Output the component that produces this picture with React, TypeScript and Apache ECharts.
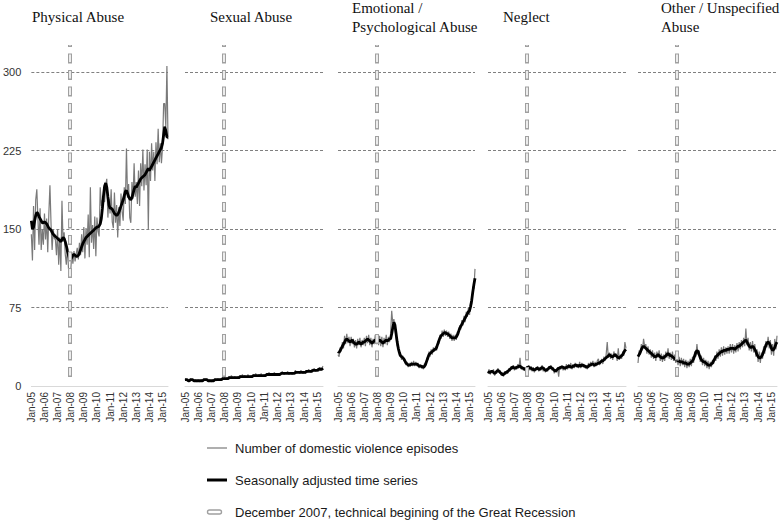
import React, { useEffect, useRef } from "react";
import * as echarts from "echarts";

const MONTH_NAMES = ["Jan", "Feb", "Mar", "Apr", "May", "Jun", "Jul", "Aug", "Sep", "Oct", "Nov", "Dec"];
const YEARS = ["05", "06", "07", "08", "09", "10", "11", "12", "13", "14", "15"];
const LAST_YEAR_MONTHS = 6;
const months: string[] = [];
YEARS.forEach((y, i) => {
  const n = i === YEARS.length - 1 ? LAST_YEAR_MONTHS : 12;
  for (let m = 0; m < n; m++) months.push(`${MONTH_NAMES[m]}-${y}`);
});
const RECESSION = "Dec-07";
const Y_TICKS_MAX = 300;

const physicalRaw = [
  145, 120, 172, 130, 178, 188, 160, 135, 170, 130, 150, 135,
  165, 140, 160, 128, 165, 192, 155, 130, 150, 141, 140, 125,
  150, 116, 142, 110, 177, 138, 147, 126, 116, 133, 112, 112,
  109, 128, 117, 129, 119, 126, 132, 121, 137, 125, 145, 128,
  152, 122, 151, 135, 164, 123, 190, 137, 154, 131, 162, 124,
  161, 148, 143, 190, 172, 178, 177, 176, 192, 198, 161, 179,
  165, 188, 157, 151, 185, 156, 173, 142, 171, 153, 184, 167,
  158, 190, 174, 227, 180, 193, 161, 156, 195, 179, 213, 181,
  195, 174, 206, 172, 213, 191, 226, 187, 212, 192, 226, 150,
  224, 196, 232, 206, 224, 196, 233, 212, 246, 214, 232, 213,
  228, 270, 270, 248, 306, 236,
];
const physicalSA = [
  158, 150, 152, 158, 163, 166, 165, 162, 160, 158, 156, 156,
  157, 156, 155, 153, 151, 150, 149, 147, 145, 144, 143, 142,
  141, 140, 139, 138, 140, 142, 141, 138, 134, 129, 125, 122,
  121, 123, 125, 126, 125, 124, 124, 125, 127, 130, 133, 136,
  138, 140, 142, 143, 144, 145, 146, 147, 148, 149, 150, 151,
  152, 152, 153, 155, 160, 170, 182, 191, 194, 190, 181, 173,
  170, 170, 169, 167, 165, 164, 163, 164, 166, 169, 172, 175,
  178, 182, 186, 187, 184, 181, 179, 178, 180, 184, 188, 191,
  190, 192, 194, 196, 198, 199, 200, 201, 202, 204, 206, 208,
  206, 208, 210, 212, 214, 216, 218, 220, 222, 224, 226, 228,
  232, 240, 248, 244, 238, 238,
];

const sexualRaw = [
  7, 5, 6, 4, 6, 7, 5, 6, 4, 6, 5, 4,
  6, 4, 5, 6, 4, 7, 5, 7, 5, 4, 6, 5,
  4, 6, 5, 7, 5, 6, 7, 5, 7, 6, 8, 6,
  8, 6, 8, 7, 9, 7, 10, 8, 7, 9, 8, 7,
  9, 7, 10, 8, 11, 8, 10, 9, 8, 11, 9, 8,
  10, 8, 11, 9, 12, 10, 9, 11, 10, 12, 9, 10,
  11, 9, 12, 10, 13, 11, 10, 12, 11, 13, 10, 11,
  12, 10, 12, 11, 14, 12, 11, 13, 12, 14, 11, 12,
  13, 11, 13, 12, 15, 12, 14, 13, 12, 15, 13, 12,
  14, 12, 15, 13, 16, 14, 13, 16, 15, 17, 14, 15,
  16, 14, 18, 15, 17, 19,
];
const sexualSA = [
  6, 6, 6, 5, 5, 6, 6, 6, 5, 5, 5, 5,
  5, 5, 5, 5, 5, 6, 6, 6, 6, 5, 5, 5,
  5, 5, 5, 6, 6, 6, 6, 6, 6, 6, 7, 7,
  7, 7, 7, 7, 8, 8, 8, 8, 8, 8, 8, 8,
  8, 8, 9, 9, 9, 9, 9, 9, 9, 9, 9, 9,
  9, 9, 10, 10, 10, 10, 10, 10, 10, 10, 10, 10,
  10, 10, 11, 11, 11, 11, 11, 11, 11, 11, 11, 11,
  11, 11, 11, 12, 12, 12, 12, 12, 12, 12, 12, 12,
  12, 12, 12, 12, 13, 13, 13, 13, 13, 13, 13, 13,
  13, 13, 14, 14, 14, 14, 14, 14, 15, 15, 15, 15,
  15, 16, 16, 16, 16, 17,
];

const emotionalRaw = [
  30, 28, 37, 33, 42, 36, 48, 40, 50, 41, 47, 38,
  47, 40, 45, 37, 44, 36, 45, 39, 46, 37, 44, 39,
  46, 38, 48, 41, 49, 39, 46, 37, 45, 40, 49, 40,
  46, 39, 48, 38, 47, 37, 46, 40, 49, 39, 47, 42,
  50, 72, 60, 64, 54, 47, 38, 39, 29, 31, 25, 29,
  24, 26, 20, 23, 18, 22, 19, 23, 19, 24, 19, 23,
  19, 22, 17, 21, 17, 20, 16, 22, 19, 27, 25, 33,
  28, 35, 30, 37, 33, 38, 34, 43, 40, 49, 45, 53,
  47, 54, 48, 53, 47, 52, 45, 50, 43, 49, 43, 49,
  44, 52, 49, 58, 54, 63, 58, 67, 61, 71, 66, 75,
  68, 80, 78, 95, 93, 112,
];
const emotionalSA = [
  33, 32, 34, 36, 38, 40, 42, 44, 45, 44, 43, 42,
  43, 44, 42, 41, 40, 40, 41, 42, 41, 40, 41, 42,
  42, 43, 44, 45, 44, 43, 42, 41, 42, 43, 44, 43,
  42, 43, 44, 43, 42, 41, 42, 43, 44, 43, 44, 45,
  45, 50, 56, 61, 58, 50, 42, 36, 32, 29, 28, 27,
  26, 24, 22, 21, 20, 20, 20, 21, 21, 21, 21, 21,
  21, 20, 19, 19, 19, 18, 18, 19, 21, 24, 27, 30,
  31, 32, 33, 34, 35, 35, 37, 40, 43, 46, 48, 49,
  50, 51, 51, 50, 50, 49, 48, 47, 46, 46, 46, 46,
  47, 49, 52, 55, 57, 59, 61, 63, 65, 67, 69, 71,
  72, 76, 82, 90, 97, 103,
];

const neglectRaw = [
  12, 16, 11, 15, 13, 16, 10, 14, 12, 17, 13, 15,
  10, 13, 9, 14, 11, 15, 12, 17, 14, 19, 16, 20,
  15, 19, 16, 21, 17, 27, 16, 19, 15, 18, 14, 19,
  16, 20, 15, 19, 14, 18, 13, 17, 15, 19, 14, 18,
  15, 20, 14, 18, 13, 17, 14, 19, 16, 20, 15, 18,
  12, 16, 13, 18, 9, 19, 16, 20, 15, 19, 15, 21,
  16, 21, 17, 22, 16, 21, 17, 22, 18, 21, 17, 23,
  17, 22, 18, 21, 17, 20, 16, 22, 18, 23, 19, 24,
  18, 23, 19, 24, 26, 20, 22, 26, 21, 28, 24, 30,
  42, 27, 32, 26, 31, 25, 33, 28, 31, 24, 36, 25,
  30, 26, 33, 29, 42, 36,
];
const neglectSA = [
  14, 13, 13, 14, 14, 13, 12, 13, 14, 15, 14, 13,
  12, 11, 11, 12, 13, 13, 14, 15, 16, 17, 18, 18,
  17, 17, 18, 18, 19, 19, 18, 17, 17, 16, 16, 17,
  18, 18, 17, 17, 16, 16, 15, 16, 17, 17, 16, 16,
  17, 18, 17, 16, 15, 15, 16, 17, 18, 18, 17, 16,
  15, 14, 15, 16, 17, 17, 18, 18, 18, 17, 17, 18,
  18, 19, 19, 18, 18, 19, 19, 20, 20, 19, 19, 20,
  19, 20, 20, 19, 19, 18, 18, 19, 20, 20, 21, 21,
  20, 20, 21, 21, 22, 22, 23, 24, 24, 25, 26, 27,
  28, 29, 30, 29, 28, 28, 29, 30, 29, 28, 27, 27,
  28, 29, 30, 32, 34, 35,
];

const otherRaw = [
  22, 34, 30, 40, 34, 45, 38, 40, 31, 38, 30, 35,
  27, 34, 26, 32, 24, 33, 27, 34, 24, 31, 23, 30,
  24, 33, 27, 36, 26, 32, 25, 33, 24, 30, 22, 28,
  20, 28, 19, 27, 20, 26, 18, 25, 17, 24, 18, 26,
  19, 28, 22, 33, 28, 40, 30, 34, 23, 29, 20, 27,
  19, 25, 17, 24, 16, 23, 18, 25, 21, 29, 24, 33,
  26, 35, 28, 37, 29, 38, 30, 37, 31, 38, 31, 40,
  32, 40, 31, 39, 32, 41, 33, 42, 35, 44, 37, 46,
  38, 55, 39, 46, 34, 42, 33, 43, 32, 40, 28, 35,
  23, 33, 22, 32, 26, 38, 31, 43, 37, 47, 36, 44,
  30, 40, 29, 45, 35, 48,
];
const otherSA = [
  28, 30, 32, 35, 37, 38, 37, 36, 35, 34, 33, 32,
  31, 30, 29, 28, 28, 29, 30, 29, 28, 27, 27, 27,
  28, 29, 30, 31, 30, 29, 29, 28, 27, 26, 25, 25,
  24, 24, 23, 23, 23, 22, 22, 22, 21, 21, 21, 22,
  23, 24, 26, 29, 32, 34, 33, 30, 27, 25, 24, 23,
  23, 22, 21, 20, 20, 20, 21, 22, 24, 26, 28, 29,
  30, 31, 32, 33, 33, 34, 34, 34, 35, 35, 35, 36,
  36, 36, 36, 35, 36, 37, 38, 38, 39, 40, 41, 42,
  43, 44, 42, 40, 38, 37, 37, 38, 37, 35, 33, 30,
  28, 27, 27, 28, 30, 33, 36, 39, 41, 42, 41, 39,
  36, 34, 35, 37, 40, 42,
];

const panelTitles = [
  "Physical Abuse",
  "Sexual Abuse",
  "Emotional /\nPsychological Abuse",
  "Neglect",
  "Other / Unspecified\nAbuse",
];
const rawSeries = [physicalRaw, sexualRaw, emotionalRaw, neglectRaw, otherRaw];
const saSeries = [physicalSA, sexualSA, emotionalSA, neglectSA, otherSA];
const legendLabels = [
  "Number of domestic violence episodes",
  "Seasonally adjusted time series",
  "December 2007, technical begining of the Great Recession",
];

const GRID_LEFTS = [31, 185, 338, 488, 638];
const GRID_WIDTHS = [137, 138, 137, 138, 139];
const TITLE_LEFTS = [32, 210, 352, 503, 661];

export default function App() {
  const ref = useRef<HTMLDivElement>(null);
  useEffect(() => {
    document.body.style.margin = "0";
    if (!ref.current) return;
    const chart = echarts.init(ref.current, undefined, { renderer: "svg" });
    const grids: any[] = [];
    const xAxes: any[] = [];
    const yAxes: any[] = [];
    const series: any[] = [];
    const titles: any[] = [];
    const yMax = 326;
    for (let i = 0; i < 5; i++) {
      grids.push({ left: GRID_LEFTS[i], width: GRID_WIDTHS[i], top: 45, height: 341 });
      xAxes.push({
        type: "category",
        gridIndex: i,
        data: months,
        boundaryGap: false,
        axisLine: { show: true, lineStyle: { color: "#d9d9d9", width: 1 } },
        axisTick: { show: false },
        axisLabel: {
          interval: 11,
          rotate: 90,
          margin: 6,
          fontSize: 10,
          fontFamily: "Liberation Sans",
          color: "#333333",
        },
        splitLine: { show: false },
      });
      yAxes.push({
        type: "value",
        gridIndex: i,
        min: 0,
        max: yMax,
        interval: 75,
        axisLine: { show: false },
        axisTick: { show: false },
        axisLabel: {
          show: i === 0,
          fontSize: 11,
          fontFamily: "Liberation Sans",
          color: "#333333",
          margin: 10,
          formatter: (v: number) => (v > Y_TICKS_MAX ? "" : String(v)),
        },
        splitLine: {
          show: true,
          showMinLine: false,
          showMaxLine: false,
          lineStyle: { color: "#808080", width: 1, type: [3, 2] },
        },
      });
      const single = !panelTitles[i].includes("\n");
      titles.push({
        text: panelTitles[i],
        left: TITLE_LEFTS[i],
        top: single ? 8 : -1,
        padding: 0,
        textStyle: {
          fontFamily: "Liberation Serif",
          fontSize: 15,
          fontWeight: "normal",
          color: "#111",
          lineHeight: 18.5,
        },
      });
      // recession marker: grey outline then white inner dashes
      series.push({
        type: "line",
        xAxisIndex: i,
        yAxisIndex: i,
        data: [],
        silent: true,
        z: 1,
        markLine: {
          silent: true,
          symbol: ["none", "none"],
          label: { show: false },
          lineStyle: { color: "#a0a0a0", width: 4, type: [10, 6.5], dashOffset: 8 },
          data: [[{ coord: [RECESSION, yMax] }, { coord: [RECESSION, 5] }]],
        },
      });
      series.push({
        type: "line",
        xAxisIndex: i,
        yAxisIndex: i,
        data: [],
        silent: true,
        z: 1,
        markLine: {
          silent: true,
          symbol: ["none", "none"],
          label: { show: false },
          lineStyle: { color: "#ffffff", width: 1.6, type: [7.4, 9.1], dashOffset: 6.7 },
          data: [[{ coord: [RECESSION, yMax] }, { coord: [RECESSION, 5] }]],
        },
      });
      series.push({
        type: "line",
        xAxisIndex: i,
        yAxisIndex: i,
        data: rawSeries[i],
        symbol: "none",
        z: 2,
        lineStyle: { color: "#7a7a7a", width: 1.2 },
      });
      series.push({
        type: "line",
        xAxisIndex: i,
        yAxisIndex: i,
        data: saSeries[i],
        symbol: "none",
        z: 3,
        lineStyle: { color: "#000000", width: 2.8 },
      });
    }
    const textStyle = (t: string, y: number) => ({
      type: "text",
      x: 235,
      y,
      style: {
        text: t,
        fontSize: 13,
        fontFamily: "Liberation Sans",
        fill: "#1a1a1a",
        verticalAlign: "middle",
      },
    });
    chart.setOption({
      animation: false,
      title: titles,
      grid: grids,
      xAxis: xAxes,
      yAxis: yAxes,
      series,
      graphic: [
        { type: "line", shape: { x1: 207, y1: 448, x2: 227, y2: 448 }, style: { stroke: "#7a7a7a", lineWidth: 1.2 } },
        textStyle(legendLabels[0], 448),
        { type: "line", shape: { x1: 207, y1: 480, x2: 227, y2: 480 }, style: { stroke: "#000", lineWidth: 3 } },
        textStyle(legendLabels[1], 480),
        {
          type: "rect",
          shape: { x: 207.5, y: 510, width: 14, height: 4, r: 2 },
          style: { fill: "#fff", stroke: "#a0a0a0", lineWidth: 1.4 },
        },
        textStyle(legendLabels[2], 512),
      ],
    });
    return () => chart.dispose();
  }, []);
  return <div ref={ref} style={{ width: 781, height: 521 }} />;
}
